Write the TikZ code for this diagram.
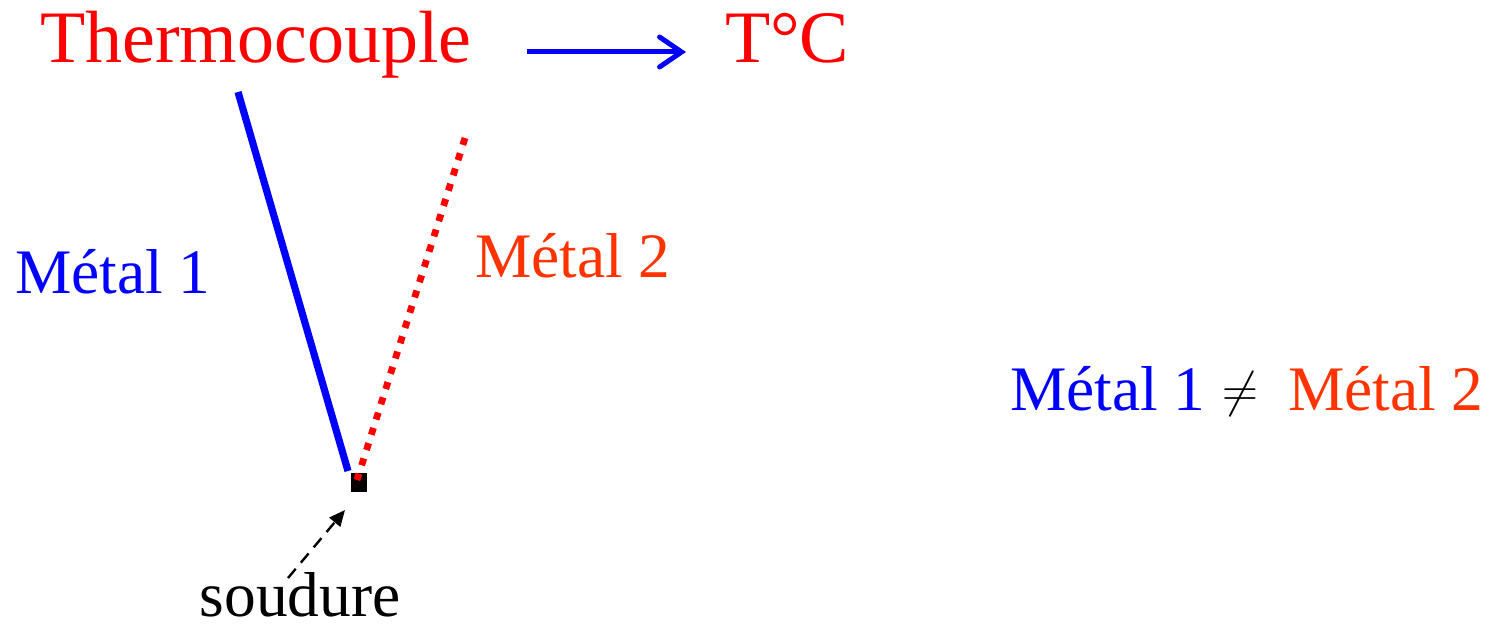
\documentclass[tikz,border=0pt]{standalone}
\usepackage{fontspec}
\setmainfont{Liberation Serif}
\usetikzlibrary{arrows.meta}
\definecolor{tcred}{RGB}{255,0,0}
\definecolor{tcorange}{RGB}{255,51,0}
\definecolor{tcblue}{RGB}{0,0,255}
\tikzset{
  txt/.style={inner sep=0pt, outer sep=0pt, anchor=base west},
  bigtxt/.style={txt, font=\fontsize{37}{40}\selectfont},
  midtxt/.style={txt, font=\fontsize{31.7}{34}\selectfont},
  wire1/.style={draw=tcblue, line width=3.6pt},
  wire2/.style={draw=tcred, line width=3.4pt, dash pattern=on 3.6pt off 4.4pt},
}
\begin{document}
\begin{tikzpicture}[x=0.5pt,y=-0.5pt]
\useasboundingbox (0,0) rectangle (1491,631);
\node[bigtxt, text=tcred] (thermo) at (40,62) {Thermocouple};
\node[bigtxt, text=tcred] (tc) at (725,62) {T°C};
\coordinate (arrA) at (527,52);
\coordinate (arrB) at (686,52);
\draw[draw=tcblue, line width=2.5pt, -{Straight Barb[length=11pt,width=15pt,line cap=round]}] (arrA) -- (arrB);

\coordinate (b1) at (238,92);
\coordinate (b2) at (348,471);
\coordinate (r1) at (465,138);
\coordinate (r2) at (357,480);
\node[fill=black, inner sep=0pt, minimum width=8pt, minimum height=9.5pt] (weld) at (359,482.5) {};
\draw[wire1] (b1) -- (b2);
\draw[wire2] (r1) -- (r2);

\node[midtxt, text=tcblue] (m1) at (15,293) {Métal 1};
\node[midtxt, text=tcorange] (m2) at (475,277) {Métal 2};

\node[midtxt, anchor=base, text=black, text depth=0pt] (soud) at (300,616) {soudure};
\coordinate (sa) at (288,578);
\coordinate (sb) at (345,510);
\draw[black, line width=1.2pt, dash pattern=on 6pt off 4pt, -{Triangle[length=8pt,width=7pt]}] (sa) -- (sb);

\node[midtxt, text=tcblue] (m1b) at (1010,410) {Métal 1};
\node[inner sep=0pt, font=\fontsize{40}{44}\selectfont] (neq) at (1240,394) {$\neq$};
\node[midtxt, text=tcorange] (m2b) at (1288,410) {Métal 2};
\end{tikzpicture}
\end{document}
